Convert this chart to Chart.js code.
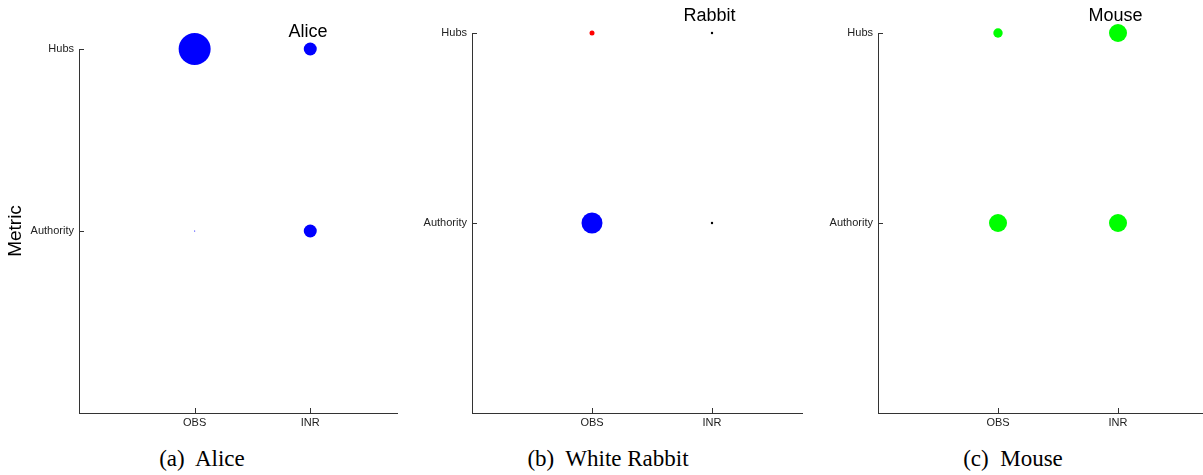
<!DOCTYPE html>
<html>
<head>
<meta charset="utf-8">
<script src="https://cdn.jsdelivr.net/npm/chart.js@4/dist/chart.umd.min.js"></script>
<style>
  body { margin: 0; width: 1203px; height: 475px; background: #fff; position: relative; overflow: hidden; }
  canvas { position: absolute; top: 0; }
  .caption { position: absolute; top: 446px; width: 400px; text-align: center; white-space: pre;
             font-family: 'Liberation Serif', serif; font-size: 23px; color: #000; }
</style>
</head>
<body>
<canvas id="alice" width="400" height="440" style="left:0px"></canvas>
<canvas id="rabbit" width="410" height="440" style="left:400px"></canvas>
<canvas id="mouse" width="420" height="440" style="left:800px"></canvas>
<div class="caption" style="left:2px">(a)  Alice</div>
<div class="caption" style="left:408px">(b)  White Rabbit</div>
<div class="caption" style="left:813px">(c)  Mouse</div>
<script>
// x categories and y metrics (plotted at positions 1 and 2)
const categories = ['OBS', 'INR'];
const metrics = ['Authority', 'Hubs'];

// bubble radius per category
const aliceHubs = [16, 6.5];
const aliceAuthority = [0.6, 6.5];
const rabbitHubs = [2.5, 1.2];
const rabbitAuthority = [10.5, 1.2];
const mouseHubs = [4.7, 9];
const mouseAuthority = [9, 9];

// colours per point
const aliceHubsColors = ['#0000ff', '#0000ff'];
const aliceAuthorityColors = ['#0000ff', '#0000ff'];
const rabbitHubsColors = ['#ff0000', '#000000'];
const rabbitAuthorityColors = ['#0000ff', '#000000'];
const mouseHubsColors = ['#00ff00', '#00ff00'];
const mouseAuthorityColors = ['#00ff00', '#00ff00'];

const tickFont = { family: 'Liberation Sans', size: 11 };

const panelDecor = {
    id: 'panelDecor',
    afterDraw(chart, args, opts) {
        const { ctx, chartArea, scales: { x, y } } = chart;
        ctx.save();
        ctx.strokeStyle = '#333';
        ctx.lineWidth = 1;
        // inward tick marks
        [1, 2].forEach(v => {
            const px = Math.round(x.getPixelForValue(v)) + 0.5;
            ctx.beginPath();
            ctx.moveTo(px, chartArea.bottom);
            ctx.lineTo(px, chartArea.bottom - 5);
            ctx.stroke();
            const py = Math.round(y.getPixelForValue(v)) + 0.5;
            ctx.beginPath();
            ctx.moveTo(chartArea.left, py);
            ctx.lineTo(chartArea.left + 5, py);
            ctx.stroke();
        });
        ctx.fillStyle = '#000';
        ctx.font = '18px "Liberation Sans"';
        ctx.textAlign = 'center';
        ctx.textBaseline = 'middle';
        ctx.fillText(opts.text, x.getPixelForValue(1.98), chartArea.top - 17);
        ctx.restore();
    }
};

function makeDataset(sizes, colors, metricIndex) {
    return {
        data: categories.map((c, i) => ({ x: i + 1, y: metricIndex + 1, r: sizes[i] })),
        backgroundColor: colors,
        borderColor: colors,
        borderWidth: 0,
        clip: false,
    };
}

function makeChart(id, title, hubs, hubsColors, auth, authColors, top, yWidth, rightPad, showYTitle) {
    return new Chart(document.getElementById(id), {
        type: 'bubble',
        data: {
            datasets: [
                makeDataset(hubs, hubsColors, 1),
                makeDataset(auth, authColors, 0),
            ],
        },
        plugins: [panelDecor],
        options: {
            responsive: false,
            animation: false,
            events: [],
            layout: { autoPadding: false, padding: { top: top, right: rightPad, left: 0, bottom: 0 } },
            plugins: {
                legend: { display: false },
                tooltip: { enabled: false },
                panelDecor: { text: title },
            },
            scales: {
                x: {
                    type: 'linear',
                    min: 0,
                    max: 2.75,
                    afterBuildTicks: s => { s.ticks = [{ value: 1 }, { value: 2 }]; },
                    afterFit: s => { s.height = 27; },
                    ticks: { callback: v => categories[v - 1], font: tickFont, color: '#222', padding: 3, maxRotation: 0 },
                    grid: { drawOnChartArea: false, drawTicks: false },
                    border: { display: true, color: '#333', width: 1 },
                },
                y: {
                    type: 'linear',
                    min: 0,
                    max: 2,
                    afterBuildTicks: s => { s.ticks = [{ value: 1 }, { value: 2 }]; },
                    afterFit: s => { s.width = yWidth; },
                    ticks: { callback: v => metrics[v - 1], font: tickFont, color: '#222', padding: 5 },
                    grid: { drawOnChartArea: false, drawTicks: false },
                    border: { display: true, color: '#333', width: 1 },
                    title: {
                        display: showYTitle,
                        text: 'Metric',
                        font: { family: 'Liberation Sans', size: 19 },
                        color: '#000',
                        padding: { top: 4, bottom: 0 },
                    },
                },
            },
        },
    });
}

makeChart('alice', 'Alice', aliceHubs, aliceHubsColors, aliceAuthority, aliceAuthorityColors, 49, 79, 3, true);
makeChart('rabbit', 'Rabbit', rabbitHubs, rabbitHubsColors, rabbitAuthority, rabbitAuthorityColors, 33, 72, 8, false);
makeChart('mouse', 'Mouse', mouseHubs, mouseHubsColors, mouseAuthority, mouseAuthorityColors, 33, 78, 12, false);
</script>
</body>
</html>
